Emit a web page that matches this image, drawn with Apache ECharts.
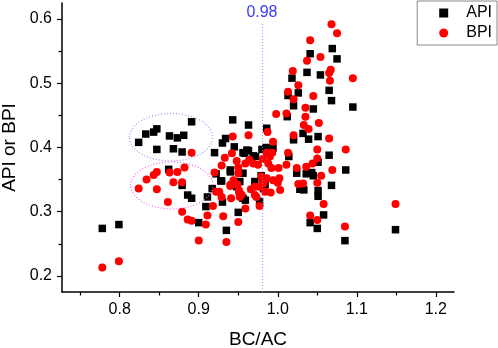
<!DOCTYPE html>
<html>
<head>
<meta charset="utf-8">
<script src="https://cdn.jsdelivr.net/npm/echarts@6/dist/echarts.min.js"></script>
<style>
  html, body { margin: 0; padding: 0; background: #fff; }
  #chart { width: 498px; height: 348px; }
</style>
</head>
<body>
<div id="chart"></div>
<script>
// [BC/AC, API]
var apiPoints = [
    [0.778, 0.274], [0.799, 0.280],
    [0.824, 0.408], [0.833, 0.421], [0.843, 0.424], [0.847, 0.429], [0.847, 0.397], [0.863, 0.418],
    [0.873, 0.415], [0.881, 0.419], [0.868, 0.398], [0.879, 0.393], [0.891, 0.440],
    [0.862, 0.366], [0.879, 0.341], [0.886, 0.326], [0.891, 0.321], [0.900, 0.283], [0.909, 0.308],
    [0.911, 0.323], [0.917, 0.336], [0.922, 0.359], [0.930, 0.315], [0.935, 0.271], [0.928, 0.348],
    [0.940, 0.362], [0.950, 0.299], [0.959, 0.318], [0.977, 0.316],
    [0.943, 0.443], [0.945, 0.401], [0.963, 0.435], [0.986, 0.430], [0.980, 0.397], [0.985, 0.400],
    [0.963, 0.395], [0.958, 0.391], [0.972, 0.386], [0.934, 0.414], [0.930, 0.407], [0.920, 0.392],
    [0.956, 0.392], [0.961, 0.396], [0.969, 0.387], [0.940, 0.365], [0.956, 0.360], [0.929, 0.348],
    [0.948, 0.339], [0.979, 0.356], [0.994, 0.399], [0.984, 0.342], [0.952, 0.347], [0.971, 0.347],
    [0.982, 0.336], [0.956, 0.321],
    [1.041, 0.283], [1.050, 0.274], [1.058, 0.295], [1.051, 0.324], [1.085, 0.255], [1.149, 0.272],
    [1.095, 0.463], [1.086, 0.365],
    [1.069, 0.554], [1.075, 0.538], [1.041, 0.546], [1.037, 0.517], [1.054, 0.513], [1.018, 0.508],
    [1.013, 0.481], [1.026, 0.485], [1.020, 0.465], [1.065, 0.489], [1.068, 0.473], [1.045, 0.460],
    [1.012, 0.448], [1.032, 0.422], [1.020, 0.412], [1.051, 0.417], [1.039, 0.413], [1.065, 0.388],
    [1.051, 0.377], [1.024, 0.360], [1.036, 0.359], [1.043, 0.361], [1.014, 0.386], [1.045, 0.356],
    [1.028, 0.335], [1.033, 0.334], [1.051, 0.333], [1.068, 0.341]
];

// [BC/AC, BPI]
var bpiPoints = [
    [0.778, 0.213], [0.799, 0.223],
    [0.891, 0.392],
    [0.824, 0.336], [0.834, 0.350], [0.843, 0.357], [0.847, 0.362], [0.847, 0.335], [0.863, 0.361],
    [0.873, 0.362], [0.882, 0.369], [0.868, 0.346], [0.879, 0.346], [0.861, 0.315], [0.879, 0.300],
    [0.886, 0.288], [0.891, 0.286], [0.900, 0.255], [0.909, 0.280], [0.911, 0.294], [0.918, 0.309],
    [0.922, 0.331], [0.929, 0.323], [0.931, 0.293], [0.935, 0.253], [0.941, 0.321], [0.940, 0.342],
    [0.950, 0.360], [0.949, 0.342], [0.951, 0.330], [0.954, 0.327], [0.950, 0.284], [0.959, 0.305],
    [0.977, 0.309],
    [0.987, 0.424], [0.963, 0.419], [0.943, 0.417], [0.994, 0.409], [0.986, 0.392], [0.993, 0.392],
    [0.990, 0.386], [0.981, 0.382], [0.959, 0.375], [0.948, 0.379], [0.942, 0.391], [0.969, 0.375],
    [0.975, 0.373], [0.992, 0.368], [0.933, 0.384], [0.964, 0.381], [0.988, 0.375], [0.929, 0.372],
    [0.920, 0.361], [0.950, 0.369], [0.944, 0.349], [0.940, 0.340], [0.951, 0.333], [0.977, 0.339],
    [0.971, 0.339], [0.981, 0.349], [0.966, 0.335], [0.926, 0.331], [0.973, 0.323], [0.952, 0.323],
    [0.979, 0.355], [0.986, 0.352], [0.994, 0.349], [1.000, 0.345], [0.984, 0.331], [0.991, 0.330],
    [1.003, 0.334], [0.971, 0.326], [0.982, 0.344], [1.002, 0.352],
    [1.041, 0.294], [1.050, 0.287], [1.058, 0.312], [1.085, 0.277], [1.149, 0.312], [1.095, 0.508],
    [1.086, 0.397],
    [1.068, 0.592], [1.075, 0.578], [1.041, 0.567], [1.054, 0.541], [1.037, 0.535], [1.067, 0.521],
    [1.065, 0.516], [1.019, 0.519], [1.026, 0.497], [1.066, 0.504], [1.013, 0.487], [1.020, 0.475],
    [1.045, 0.480], [1.035, 0.462], [0.998, 0.452], [1.011, 0.453], [1.035, 0.448], [1.052, 0.438],
    [1.033, 0.435], [1.039, 0.429], [1.020, 0.419], [1.065, 0.414], [1.050, 0.397], [1.013, 0.392],
    [1.050, 0.383], [1.069, 0.365], [1.024, 0.368], [1.036, 0.370], [1.055, 0.356], [1.011, 0.373],
    [1.001, 0.368], [1.044, 0.375], [1.026, 0.343], [1.032, 0.344], [1.050, 0.345]
];

var xMajor = [0.8, 0.9, 1.0, 1.1, 1.2];
var xMinor = [0.75, 0.85, 0.95, 1.05, 1.15];
var yMajor = [0.2, 0.3, 0.4, 0.5, 0.6];
var yMinor = [0.25, 0.35, 0.45, 0.55];
var cutLine = 0.98;

// dotted ellipses round the two left clusters: [cx, cy, half width, half height] in data units
var upperRing = [0.865, 0.416, 0.0526, 0.037];
var lowerRing = [0.866, 0.341, 0.052, 0.0366];

var FONT = 'Liberation Sans, Arial, sans-serif';
var X_MIN = 0.727, X_MAX = 1.223, Y_MIN = 0.175, Y_MAX = 0.625;

var myChart = echarts.init(document.getElementById('chart'));

function axisBase(type, pos, major, minor) {
    return [{
        type: 'value',
        position: pos,
        min: type === 'x' ? X_MIN : Y_MIN,
        max: type === 'x' ? X_MAX : Y_MAX,
        splitLine: {show: false},
        axisLine: {lineStyle: {color: '#000', width: 1.5}},
        axisTick: {show: true, inside: false, length: 5, customValues: major, lineStyle: {color: '#000', width: 1.2}},
        axisLabel: {
            customValues: major,
            color: '#000',
            fontSize: 16,
            fontFamily: FONT,
            margin: 10,
            formatter: function (v) { return v.toFixed(1); }
        }
    }, {
        type: 'value',
        position: pos,
        min: type === 'x' ? X_MIN : Y_MIN,
        max: type === 'x' ? X_MAX : Y_MAX,
        splitLine: {show: false},
        axisLine: {show: false},
        axisTick: {show: true, inside: false, length: 3.5, customValues: minor, lineStyle: {color: '#000', width: 1.2}},
        axisLabel: {show: false}
    }];
}

var xAxes = axisBase('x', 'bottom', xMajor, xMinor);
xAxes[0].name = 'BC/AC';
xAxes[0].nameLocation = 'middle';
xAxes[0].nameGap = 38;
xAxes[0].nameTextStyle = {fontSize: 19, fontFamily: FONT, color: '#000'};

var yAxes = axisBase('y', 'left', yMajor, yMinor);
yAxes[0].name = 'API or BPI';
yAxes[0].nameLocation = 'middle';
yAxes[0].nameGap = 43;
yAxes[0].nameTextStyle = {fontSize: 19, fontFamily: FONT, color: '#000'};

var option = {
    animation: false,
    backgroundColor: '#fff',
    grid: {left: 62, top: 3, right: 44, bottom: 56, containLabel: false, outerBoundsMode: 'none'},
    xAxis: xAxes,
    yAxis: yAxes,
    legend: {
        orient: 'vertical',
        right: 1,
        top: 1,
        borderColor: '#888',
        borderWidth: 1,
        borderRadius: 0,
        padding: [4, 5, 4, 22],
        itemGap: 4,
        itemWidth: 9,
        itemHeight: 9,
        textStyle: {fontSize: 16, fontFamily: FONT, color: '#000', padding: [0, 0, 0, 13], lineHeight: 16},
        data: [{name: 'API', icon: 'rect'}, {name: 'BPI', icon: 'circle'}]
    },
    series: [
        {
            name: 'API',
            type: 'scatter',
            symbol: 'rect',
            symbolSize: 7.5,
            itemStyle: {color: '#000', opacity: 1},
            data: apiPoints,
            markLine: {
                silent: true,
                symbol: 'none',
                lineStyle: {type: [1, 2], color: '#8080ff', width: 1, opacity: 0.8},
                label: {
                    position: 'end',
                    formatter: String(cutLine),
                    color: '#0000ff',
                    fontSize: 16,
                    fontFamily: FONT,
                    distance: 2
                },
                data: [[{coord: [cutLine, Y_MIN]}, {coord: [cutLine, 0.595]}]]
            }
        },
        {
            name: 'BPI',
            type: 'scatter',
            symbol: 'circle',
            symbolSize: 8,
            itemStyle: {color: '#ff0000', opacity: 1},
            data: bpiPoints
        }
    ]
};
myChart.setOption(option);

function ring(r, color) {
    var c = myChart.convertToPixel({gridIndex: 0}, [r[0], r[1]]);
    var e = myChart.convertToPixel({gridIndex: 0}, [r[0] + r[2], r[1] + r[3]]);
    return {
        type: 'ellipse',
        silent: true,
        z: 5,
        shape: {cx: c[0], cy: c[1], rx: e[0] - c[0], ry: c[1] - e[1]},
        style: {fill: null, stroke: color, lineWidth: 1.2, lineDash: [1, 2]}
    };
}

myChart.setOption({
    graphic: [ring(upperRing, '#9a9aee'), ring(lowerRing, '#ee66ee')]
});
</script>
</body>
</html>
